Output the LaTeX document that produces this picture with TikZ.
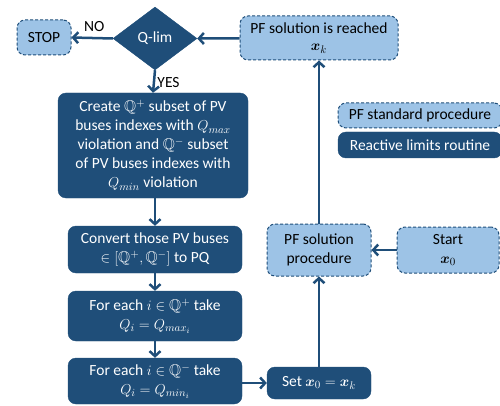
\documentclass[tikz,border=0pt]{standalone}
\usepackage{amsmath,amssymb,bm}
\usepackage{fontspec}
\setmainfont{Carlito}
\usetikzlibrary{shapes.geometric,arrows.meta}
\definecolor{dkblue}{RGB}{31,78,121}
\definecolor{ltblue}{RGB}{157,195,230}
\begin{document}
\begin{tikzpicture}[x=1pt,y=-1pt,
  font=\fontsize{15.5}{19}\selectfont,
  dkbox/.style={fill=dkblue,draw=dkblue,text=white,rounded corners=8pt,align=center,inner sep=0pt},
  ltbox/.style={fill=ltblue,draw=dkblue,dashed,line width=1pt,dash pattern=on 3pt off 2pt,text=black,rounded corners=8pt,align=center,inner sep=0pt},
  conn/.style={draw=dkblue,line width=2.5pt,-{Straight Barb[length=5pt,width=11pt,line width=2.5pt]}}]
\useasboundingbox (0,0) rectangle (500,406);
% nodes
\node[ltbox,minimum width=54pt,minimum height=35pt] (stop) at (44,37.5) {STOP};
\node[diamond,fill=dkblue,draw=dkblue,text=white,minimum width=84pt,minimum height=63pt,inner sep=0pt] (qlim) at (155,38.5) {Q-lim};
\node[ltbox,minimum width=158pt,minimum height=44pt] (reached) at (319,38) {PF solution is reached\\[-2pt]$\bm{x}_k$};
\node[ltbox,minimum width=164pt,minimum height=25pt] (leg1) at (420,115.5) {PF standard procedure};
\node[dkbox,minimum width=164pt,minimum height=26pt] (leg2) at (420,145) {Reactive limits routine};
\node[dkbox,minimum width=190pt,minimum height=105pt] (create) at (153,145.5) {Create $\mathbb{Q}^+$ subset of PV\\buses indexes with $Q_{max}$\\violation and $\mathbb{Q}^-$ subset\\of PV buses indexes with\\$Q_{min}$ violation};
\node[dkbox,minimum width=174pt,minimum height=47pt] (convert) at (155,249.5) {Convert those PV buses\\$\in[\mathbb{Q}^+,\mathbb{Q}^-]$ to PQ};
\node[dkbox,minimum width=174pt,minimum height=50pt] (qplus) at (155,316) {For each $i\in\mathbb{Q}^+$ take\\$Q_i=Q_{max_i}$};
\node[dkbox,minimum width=174pt,minimum height=46pt] (qminus) at (155,381) {For each $i\in\mathbb{Q}^-$ take\\$Q_i=Q_{min_i}$};
\node[dkbox,minimum width=104pt,minimum height=32pt] (set) at (319,383) {Set $\bm{x}_0=\bm{x}_k$};
\node[ltbox,minimum width=104pt,minimum height=52pt] (proc) at (319,250) {PF solution\\procedure};
\node[ltbox,minimum width=102pt,minimum height=46pt] (start) at (448,250) {Start\\$\bm{x}_0$};
% connectors
\draw[conn] (qlim.west) -- node[above,text=black,pos=0.45,yshift=2pt] (no) {NO} (stop.east);
\draw[conn] (qlim.south) -- node[right,text=black,pos=0.55,xshift=-1pt] (yes) {YES} (create.north);
\draw[conn] (create.south -| convert.north) -- (convert.north);
\draw[conn] (convert) -- (qplus);
\draw[conn] (qplus) -- (qminus);
\draw[conn] (qminus.east |- set.west) -- (set.west);
\draw[conn] (set) -- (proc);
\draw[conn] (start) -- (proc);
\draw[conn] (proc) -- (reached);
\draw[conn] (reached) -- (qlim.east);
\end{tikzpicture}
\end{document}
